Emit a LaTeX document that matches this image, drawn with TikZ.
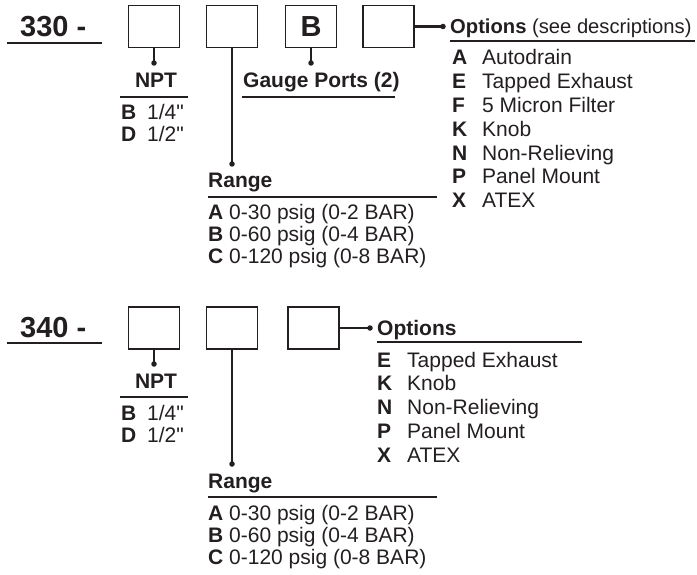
\documentclass[tikz,border=0pt]{standalone}
\usepackage{fontspec}
\setmainfont{Liberation Sans}
\newfontfamily\qfont{Liberation Sans}
\definecolor{ink}{HTML}{231F20}
\newcommand\dfont{\fontsize{21}{24}\selectfont}
\newcommand\hfont{\fontsize{20.2}{24}\selectfont}
\newcommand\bigfont{\fontsize{29}{32}\selectfont\bfseries}
\newcommand\dq{{\qfont\symbol{34}}}
\begin{document}
\begin{tikzpicture}[x=1pt,y=-1pt,
  every node/.style={inner sep=0pt, text=ink},
  cbox/.style={draw=ink, line width=1.6pt, minimum width=51pt, minimum height=42pt},
  stem/.style={draw=ink, line width=2.2pt},
  uline/.style={draw=ink, line width=1.4pt},
  thick uline/.style={draw=ink, line width=2.3pt},
  dotc/.style={circle, fill=ink, minimum size=5.5pt},
  lbl/.style={anchor=base west, font=\dfont},
  hd/.style={anchor=base west, font=\dfont\bfseries}]
\useasboundingbox (0,0) rectangle (697,575);

% ===================== 330 =====================
\node[anchor=base west, font=\bigfont] (t330) at (20,37) {330 -};
\coordinate (u330a) at (7,43); \coordinate (u330b) at (102,43);
\draw[thick uline] (u330a) -- (u330b);

\node[cbox] (a1) at (154,26.5) {};
\node[cbox] (a2) at (232,26.5) {};
\node[cbox, font=\bigfont] (a3) at (311,26.5) {B};
\node[cbox] (a4) at (388.5,26.5) {};

% NPT
\node[dotc] (ad1) at (154,63) {};
\draw[stem] (a1.south) -- (ad1.center);
\node[anchor=base, font=\dfont\bfseries] (anpt) at (156,88) {NPT};
\coordinate (anu1) at (120,97); \coordinate (anu2) at (188,97);
\draw[uline] (anu1) -- (anu2);
\node[hd] (anb) at (121,120) {B}; \node[lbl] (anbt) at (147,120) {1/4\dq};
\node[hd] (and) at (121,142) {D}; \node[lbl] (andt) at (147,142) {1/2\dq};

% Gauge ports
\node[dotc] (ad3) at (311,63) {};
\draw[stem] (a3.south) -- (ad3.center);
\node[hd] (agp) at (243,88) {Gauge Ports (2)};
\coordinate (agu1) at (242,97); \coordinate (agu2) at (395,97);
\draw[uline] (agu1) -- (agu2);

% Range
\node[dotc] (ad2) at (232,164) {};
\draw[stem] (a2.south) -- (ad2.center);
\node[hd] (arg) at (208,188) {Range};
\coordinate (aru1) at (208,197); \coordinate (aru2) at (437,197);
\draw[uline] (aru1) -- (aru2);
\node[lbl] (ar1) at (208,220) {\textbf{A} 0-30 psig (0-2 BAR)};
\node[lbl] (ar2) at (208,242) {\textbf{B} 0-60 psig (0-4 BAR)};
\node[lbl] (ar3) at (208,264) {\textbf{C} 0-120 psig (0-8 BAR)};

% Options
\node[dotc] (ad4) at (443,26.5) {};
\draw[stem] (a4.east) -- (ad4.center);
\node[anchor=base west, font=\hfont\bfseries] (aop) at (450,34) {Options \mdseries(see descriptions)};
\coordinate (aou1) at (450,41); \coordinate (aou2) at (695,41);
\draw[uline] (aou1) -- (aou2);
\foreach \k/\t [count=\i] in {A/Autodrain, E/Tapped Exhaust, F/5 Micron Filter, K/Knob, N/Non-Relieving, P/Panel Mount, X/ATEX}{
  \node[hd] (aok\i) at (452,{65+23.8*(\i-1)}) {\k};
  \node[lbl] (aot\i) at (482,{65+23.8*(\i-1)}) {\t};
}

% ===================== 340 =====================
\node[anchor=base west, font=\bigfont] (t340) at (20,337) {340 -};
\coordinate (u340a) at (7,343); \coordinate (u340b) at (102,343);
\draw[thick uline] (u340a) -- (u340b);

\node[cbox] (b1) at (154,328) {};
\node[cbox] (b2) at (232,328) {};
\node[cbox] (b3) at (313.5,328) {};

% NPT
\node[dotc] (bd1) at (154,364) {};
\draw[stem] (b1.south) -- (bd1.center);
\node[anchor=base, font=\dfont\bfseries] (bnpt) at (156,388) {NPT};
\coordinate (bnu1) at (120,397); \coordinate (bnu2) at (188,397);
\draw[uline] (bnu1) -- (bnu2);
\node[hd] (bnb) at (121,420) {B}; \node[lbl] (bnbt) at (147,420) {1/4\dq};
\node[hd] (bnd) at (121,442) {D}; \node[lbl] (bndt) at (147,442) {1/2\dq};

% Range
\node[dotc] (bd2) at (232,464) {};
\draw[stem] (b2.south) -- (bd2.center);
\node[hd] (brg) at (208,488) {Range};
\coordinate (bru1) at (208,497); \coordinate (bru2) at (437,497);
\draw[uline] (bru1) -- (bru2);
\node[lbl] (br1) at (208,520) {\textbf{A} 0-30 psig (0-2 BAR)};
\node[lbl] (br2) at (208,542) {\textbf{B} 0-60 psig (0-4 BAR)};
\node[lbl] (br3) at (208,564) {\textbf{C} 0-120 psig (0-8 BAR)};

% Options
\node[dotc] (bd3) at (370,328) {};
\draw[stem] (b3.east) -- (bd3.center);
\node[hd] (bop) at (377,335) {Options};
\coordinate (bou1) at (377,342); \coordinate (bou2) at (582,342);
\draw[uline] (bou1) -- (bou2);
\foreach \k/\t [count=\i] in {E/Tapped Exhaust, K/Knob, N/Non-Relieving, P/Panel Mount, X/ATEX}{
  \node[hd] (bok\i) at (377,{367+23.75*(\i-1)}) {\k};
  \node[lbl] (bot\i) at (407,{367+23.75*(\i-1)}) {\t};
}
\end{tikzpicture}
\end{document}
